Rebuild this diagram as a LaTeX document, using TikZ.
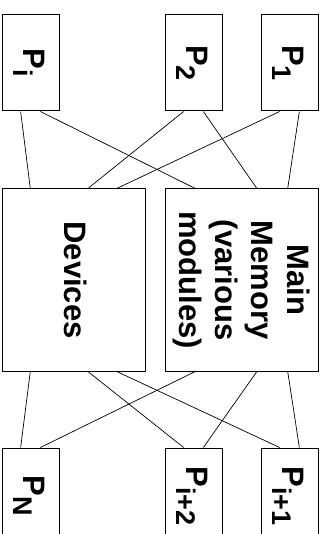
\documentclass[tikz,border=0pt]{standalone}
\usepackage{fontspec}
\setmainfont{Liberation Sans}
\usetikzlibrary{calc}

\tikzset{
  unit/.style={draw, line width=1pt, minimum width=57pt, minimum height=96pt, inner sep=0pt},
  bank/.style={draw, line width=1pt, minimum height=182pt, inner sep=0pt},
  lbl/.style={rotate=-90, font=\fontsize{31}{36}\selectfont\bfseries, align=center, inner sep=0pt},
  link/.style={line width=0.7pt}
}
\newcommand{\psub}[1]{P\raisebox{-10pt}{\fontsize{27}{30}\selectfont #1}}

\begin{document}
\begin{tikzpicture}[x=1pt, y=1pt]
\useasboundingbox (0,0) rectangle (327,-534);
\clip (0,0) rectangle (327,-534);

% processors on top
\node[unit] (pi) at (30.5,-63) {};
\node[unit] (p2) at (193.5,-63) {};
\node[unit] (p1) at (289.5,-63) {};
\node[lbl] (pitxt) at (29,-63) {\psub{i}};
\node[lbl] (p2txt) at (192.5,-63) {\psub{2}};
\node[lbl] (p1txt) at (288.5,-63) {\psub{1}};

% shared units
\node[bank, minimum width=143pt] (dev) at (73.5,-280) {};
\node[bank, minimum width=153pt] (mem) at (241.5,-280) {};
\node[lbl] (devtxt) at (76,-280) {Devices};
\node[lbl] (memtxt) at (242,-280) {Main\\Memory\\(various\\modules)};

% processors below
\node[unit] (pn) at (30.5,-496) {};
\node[unit] (pi2) at (193.5,-496) {};
\node[unit] (pi1) at (289.5,-496) {};
\node[lbl] (pntxt) at (29,-496) {\psub{N}};
\node[lbl] (pi2txt) at (192.5,-496) {\psub{i+2}};
\node[lbl] (pi1txt) at (288.5,-496) {\psub{i+1}};

% links
\foreach \a/\b/\fb in {pi/dev/0.2, p2/dev/0.6, p1/dev/0.8} {
   \draw[link] ($(\a.south west)!0.33!(\a.south east)$) -- ($(\b.north west)!\fb!(\b.north east)$);
}
\foreach \a/\b/\fb in {pi/mem/0.2, p2/mem/0.6, p1/mem/0.8} {
   \draw[link] ($(\a.south west)!0.67!(\a.south east)$) -- ($(\b.north west)!\fb!(\b.north east)$);
}
\foreach \a/\b/\fb in {pn/dev/0.2, pi2/dev/0.6, pi1/dev/0.8} {
   \draw[link] ($(\a.north west)!0.33!(\a.north east)$) -- ($(\b.south west)!\fb!(\b.south east)$);
}
\foreach \a/\b/\fb in {pn/mem/0.2, pi2/mem/0.6, pi1/mem/0.8} {
   \draw[link] ($(\a.north west)!0.67!(\a.north east)$) -- ($(\b.south west)!\fb!(\b.south east)$);
}
\end{tikzpicture}
\end{document}
